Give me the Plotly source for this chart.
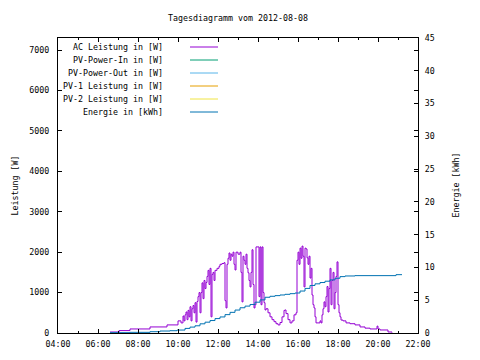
import plotly.graph_objects as go
import pandas as pd

DAY = "2012-08-08"

# AC power (W)
ac_time = ["06:36","07:03","07:36","08:36","09:27","10:00","10:09","10:15","10:18","10:21",
           "10:24","10:27","10:30","10:33","10:36","10:39","10:42","10:45","10:48","10:51",
           "10:54","10:57","11:00","11:03","11:06","11:09","11:12","11:15","11:18","11:21",
           "11:24","11:27","11:30","11:33","11:36","11:39","11:42","11:45","11:48","11:51",
           "11:54","11:57","12:00","12:03","12:06","12:12","12:18","12:21","12:24","12:27",
           "12:30","12:33","12:36","12:39","12:42","12:45","12:48","12:51","12:54","13:00",
           "13:06","13:09","13:12","13:15","13:18","13:21","13:24","13:27","13:30","13:33",
           "13:36","13:39","13:42","13:45","13:48","13:51","13:54","14:00","14:03","14:06",
           "14:09","14:12","14:15","14:18","14:21","14:24","14:30","14:36","14:42","14:48",
           "14:54","15:00","15:06","15:12","15:18","15:21","15:24","15:30","15:36","15:42",
           "15:48","15:54","15:57","16:00","16:03","16:06","16:09","16:12","16:15","16:18",
           "16:21","16:24","16:27","16:30","16:33","16:36","16:39","16:42","16:45","16:48",
           "16:51","16:54","17:00","17:06","17:09","17:12","17:15","17:18","17:21","17:24",
           "17:27","17:30","17:33","17:36","17:39","17:42","17:45","17:48","17:51","17:54",
           "17:57","18:00","18:03","18:06","18:09","18:15","18:24","18:36","18:51","19:06",
           "19:21","19:36","19:51","19:57","20:00","20:06","20:21","20:30","20:42"]
ac_watt = [25,60,100,150,200,300,250,420,300,450,
           520,330,560,400,650,300,600,680,500,750,
           270,780,900,1000,500,1000,1240,850,1300,1100,
           1250,1400,1550,1200,1600,400,1450,1500,1300,1550,
           1550,1600,1600,1650,1700,1720,1740,800,620,1700,
           1850,1980,1800,1950,1900,2000,1700,1560,2000,1950,
           2000,1500,770,1900,1800,1700,1950,1600,1490,1300,
           1140,1500,2060,1200,620,700,2130,2130,900,2130,
           700,2130,1000,750,570,600,500,400,330,280,
           230,200,260,400,560,570,480,330,250,300,
           450,500,1800,2000,1700,2100,1850,2150,1900,1140,
           2100,2080,1860,1700,1900,1360,1600,940,700,620,
           400,250,250,300,250,450,600,770,650,900,
           1150,520,1100,1600,700,1300,1500,600,1000,1400,
           1760,700,500,400,320,300,250,230,200,150,
           120,100,100,170,100,75,75,25,10]

# Energy (kWh)
en_time = ["06:36","07:36","08:36","09:06","09:36","09:57","10:21","10:36","10:51","11:06",
           "11:21","11:36","11:51","12:06","12:21","12:36","12:51","13:06","13:21","13:36",
           "13:51","14:06","14:21","14:36","14:51","15:06","15:21","15:36","15:51","16:06",
           "16:21","16:36","16:51","17:06","17:21","17:36","17:51","18:06","18:21","18:51",
           "20:51","20:54","21:12"]
en_kwh = [0.05,0.1,0.2,0.3,0.35,0.45,0.7,0.9,1.1,1.4,
          1.65,1.9,2.2,2.45,2.8,3.15,3.5,3.85,4.1,4.35,
          4.7,5.05,5.45,5.6,5.7,5.8,5.9,6.0,6.1,6.4,
          6.8,7.25,7.5,7.7,7.9,8.1,8.35,8.6,8.7,8.75,
          8.75,8.9,8.9]

series_names = ["AC Leistung in [W]", "PV-Power-In in [W]", "PV-Power-Out in [W]",
                "PV-1 Leistung in [W]", "PV-2 Leistung in [W]", "Energie in [kWh]"]
series_colors = ["#9400d3", "#009e73", "#56b4e9", "#e69f00", "#f0e442", "#0072b2"]

left_ticks = [0, 1000, 2000, 3000, 4000, 5000, 6000, 7000]
right_ticks = [0, 5, 10, 15, 20, 25, 30, 35, 40, 45]

def to_dt(ts):
    return pd.to_datetime([f"{DAY} {t}" for t in ts])

FONT = "DejaVu Sans Mono"
FS = 8.3
fig = go.Figure()
fig.add_trace(go.Scatter(x=to_dt(ac_time), y=ac_watt, mode="lines", line_shape="hv",
                         line=dict(color=series_colors[0], width=1), showlegend=False))
for c in series_colors[1:5]:
    fig.add_trace(go.Scatter(x=[], y=[], mode="lines", line=dict(color=c, width=1),
                             showlegend=False))
fig.add_trace(go.Scatter(x=to_dt(en_time), y=en_kwh, mode="lines", line_shape="hv",
                         line=dict(color=series_colors[5], width=1), yaxis="y2",
                         showlegend=False))

# page has an 8px body margin; plot area in window pixels: x 58..418, y 38..333
OFF = 8
W, H = 480 - OFF, 360 - OFF
L, T = 58 - OFF, 38 - OFF
R = W - (418 - OFF)
B = H - (333 - OFF)
pw, ph = 360, 295

def px_x(x):
    return (x - 58) / pw

def px_y(y):
    return 1 - (y - 38) / ph

annotations = []
shapes = []
for i, (name, col) in enumerate(zip(series_names, series_colors)):
    yp = px_y(47 + 13 * i)
    annotations.append(dict(text=name, x=px_x(165), y=yp, xref="paper", yref="paper",
                            xanchor="right", yanchor="middle", showarrow=False,
                            font=dict(family=FONT, size=FS, color="black")))
    shapes.append(dict(type="line", xref="paper", yref="paper",
                       x0=px_x(190), x1=px_x(218), y0=yp, y1=yp,
                       line=dict(color=col, width=1)))

annotations.append(dict(text="Leistung [W]", x=px_x(14), y=0.5, xref="paper", yref="paper",
                        textangle=-90, showarrow=False, xanchor="center", yanchor="middle",
                        font=dict(family=FONT, size=FS, color="black")))
annotations.append(dict(text="Energie [kWh]", x=px_x(455), y=0.5, xref="paper", yref="paper",
                        textangle=-90, showarrow=False, xanchor="center", yanchor="middle",
                        font=dict(family=FONT, size=FS, color="black")))

axis_common = dict(showline=True, linecolor="black", linewidth=1, ticks="inside",
                   tickcolor="black", ticklen=4, showgrid=False, zeroline=False,
                   automargin=False,
                   tickfont=dict(family=FONT, size=FS, color="black"))

fig.update_layout(
    width=W, height=H,
    margin=dict(l=L, r=R, t=T, b=B, pad=0),
    paper_bgcolor="white", plot_bgcolor="white",
    title=dict(text=f"Tagesdiagramm vom {DAY}", x=0.5, xref="paper", xanchor="center",
               y=1 - (18 - OFF) / H, yanchor="middle",
               font=dict(family=FONT, size=FS, color="black")),
    xaxis=dict(range=[f"{DAY} 04:00", f"{DAY} 22:00"], type="date", tickformat="%H:%M",
               dtick=2 * 3600 * 1000, tick0=f"{DAY} 04:00", mirror="ticks",
               ticklabelstandoff=3,
               minor=dict(ticks="inside", dtick=3600 * 1000, ticklen=2, tickcolor="black"),
               **axis_common),
    yaxis=dict(range=[0, 7300], tickvals=left_ticks, mirror="ticks",
               ticklabelstandoff=6, **axis_common),
    yaxis2=dict(range=[0, 45], tickvals=right_ticks, overlaying="y", side="right",
                ticklabelstandoff=4, **axis_common),
    annotations=annotations,
    shapes=shapes,
    showlegend=False,
)

fig.write_html("out.html")
